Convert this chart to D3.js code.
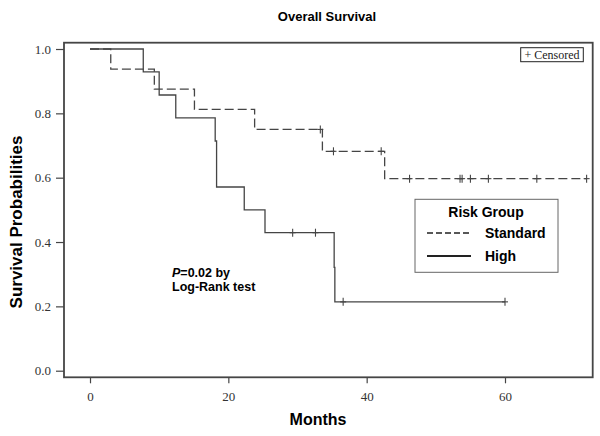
<!DOCTYPE html>
<html>
<head>
<meta charset="utf-8">
<script src="https://cdn.jsdelivr.net/npm/d3@7"></script>
<style>
  html, body { margin: 0; padding: 0; background: #fff; }
  svg { display: block; }
</style>
</head>
<body>
<svg id="chart" width="600" height="436"></svg>
<script>
// ---------------- data ----------------
const xTicks = [0, 20, 40, 60];
const yTicks = [0.0, 0.2, 0.4, 0.6, 0.8, 1.0];

// Standard risk group (dashed)
const standardTimes = [0, 3.0, 9.3, 15.1, 23.8, 33.6, 42.6];
const standardSurv  = [1.0, 0.9375, 0.875, 0.8125, 0.75, 0.682, 0.597];
const standardEnd   = 71.8;
const standardCensor = [33.3, 35.2, 42.1, 46.2, 53.5, 53.8, 55.0, 57.6, 64.6, 71.8];

// High risk group (solid)
const highTimes = [0, 7.7, 10.0, 12.4, 18.1, 18.3, 22.3, 25.3, 35.3, 35.4];
const highSurv  = [1.0, 0.929, 0.857, 0.786, 0.714, 0.571, 0.5, 0.429, 0.321, 0.214];
const highEnd   = 60.0;
const highCensor = [29.3, 32.6, 36.6, 60.0];

const legendLabels = ["Standard", "High"];

// ---------------- layout ----------------
const svg = d3.select("#chart");
const frame = { left: 64, right: 592.7, top: 42.7, bottom: 377.3 };
const x = d3.scaleLinear().domain([-3.76, 72.68]).range([frame.left, frame.right]);
const y = d3.scaleLinear().domain([-0.0205, 1.0196]).range([frame.bottom, frame.top]);
const lineColor = "#454545";
const sans = "'Liberation Sans', Arial, sans-serif";
const serif = "'Liberation Serif', 'Times New Roman', serif";

// title
svg.append("text").attr("x", 327).attr("y", 21)
  .attr("text-anchor", "middle").attr("font-family", sans)
  .attr("font-weight", "bold").attr("font-size", 13).text("Overall Survival");

// axes
const xAxis = svg.append("g").attr("transform", `translate(0,${frame.bottom})`)
  .call(d3.axisBottom(x).tickValues(xTicks).tickFormat(d3.format("d")).tickSize(6).tickPadding(8));
const yAxis = svg.append("g").attr("transform", `translate(${frame.left},0)`)
  .call(d3.axisLeft(y).tickValues(yTicks).tickFormat(d3.format(".1f")).tickSize(8).tickPadding(5));
[xAxis, yAxis].forEach(g => {
  g.select(".domain").remove();
  g.selectAll(".tick line").attr("stroke", lineColor).attr("stroke-width", 1.2);
  g.selectAll(".tick text").attr("font-family", serif).attr("font-size", 13).attr("fill", "#333");
});

// frame
svg.append("rect")
  .attr("x", frame.left).attr("y", frame.top)
  .attr("width", frame.right - frame.left).attr("height", frame.bottom - frame.top)
  .attr("fill", "none").attr("stroke", lineColor).attr("stroke-width", 1.8);

// axis titles
svg.append("text").attr("x", 318).attr("y", 425)
  .attr("text-anchor", "middle").attr("font-family", sans)
  .attr("font-weight", "bold").attr("font-size", 16).text("Months");
svg.append("text").attr("transform", "translate(22,222) rotate(-90)")
  .attr("text-anchor", "middle").attr("font-family", sans)
  .attr("font-weight", "bold").attr("font-size", 17).text("Survival Probabilities");

// ---------------- curves ----------------
function stepPoints(times, surv, end) {
  const pts = times.map((t, i) => [t, surv[i]]);
  pts.push([end, surv[surv.length - 1]]);
  return pts;
}
function survAt(times, surv, t) {
  let s = surv[0];
  times.forEach((tt, i) => { if (tt <= t) s = surv[i]; });
  return s;
}
const line = d3.line().x(d => x(d[0])).y(d => y(d[1])).curve(d3.curveStepAfter);

const groups = [
  { times: standardTimes, surv: standardSurv, end: standardEnd, censor: standardCensor, dash: "9,4" },
  { times: highTimes, surv: highSurv, end: highEnd, censor: highCensor, dash: null }
];

groups.forEach(g => {
  svg.append("path")
    .datum(stepPoints(g.times, g.surv, g.end))
    .attr("d", line)
    .attr("fill", "none").attr("stroke", lineColor).attr("stroke-width", 1.3)
    .attr("stroke-dasharray", g.dash);
  const cg = svg.append("g");
  g.censor.forEach(t => {
    const cx = x(t), cy = y(survAt(g.times, g.surv, t));
    cg.append("line").attr("x1", cx).attr("x2", cx).attr("y1", cy - 4).attr("y2", cy + 4)
      .attr("stroke", lineColor).attr("stroke-width", 1.1);
    cg.append("line").attr("x1", cx - 3).attr("x2", cx + 3).attr("y1", cy).attr("y2", cy)
      .attr("stroke", lineColor).attr("stroke-width", 1.1);
  });
});

// ---------------- censored box ----------------
svg.append("rect").attr("x", 520.7).attr("y", 47.7).attr("width", 62.6).attr("height", 14)
  .attr("fill", "#fff").attr("stroke", "#222").attr("stroke-width", 1);
svg.append("text").attr("x", 552).attr("y", 58.8).attr("text-anchor", "middle")
  .attr("font-family", serif).attr("font-size", 12).attr("fill", "#222").text("+ Censored");

// ---------------- legend ----------------
const lg = svg.append("g");
lg.append("rect").attr("x", 415).attr("y", 199.3).attr("width", 143).attr("height", 73)
  .attr("fill", "#fff").attr("stroke", "#666").attr("stroke-width", 1);
lg.append("text").attr("x", 486).attr("y", 217).attr("text-anchor", "middle")
  .attr("font-family", sans).attr("font-weight", "bold").attr("font-size", 14).text("Risk Group");
legendLabels.forEach((lab, i) => {
  const ly = 233 + i * 23;
  lg.append("line").attr("x1", 427).attr("x2", 471).attr("y1", ly).attr("y2", ly)
    .attr("stroke", "#222").attr("stroke-width", i === 0 ? 1.3 : 2)
    .attr("stroke-dasharray", i === 0 ? "6,3" : null);
  lg.append("text").attr("x", 485).attr("y", ly + 5)
    .attr("font-family", sans).attr("font-weight", "bold").attr("font-size", 14).text(lab);
});

// ---------------- p-value annotation ----------------
const pt = svg.append("text").attr("x", 172).attr("y", 277)
  .attr("font-family", sans).attr("font-weight", "bold").attr("font-size", 12.5);
pt.append("tspan").attr("font-style", "italic").text("P");
pt.append("tspan").text("=0.02 by");
svg.append("text").attr("x", 172).attr("y", 291)
  .attr("font-family", sans).attr("font-weight", "bold").attr("font-size", 12.5).text("Log-Rank test");
</script>
</body>
</html>
